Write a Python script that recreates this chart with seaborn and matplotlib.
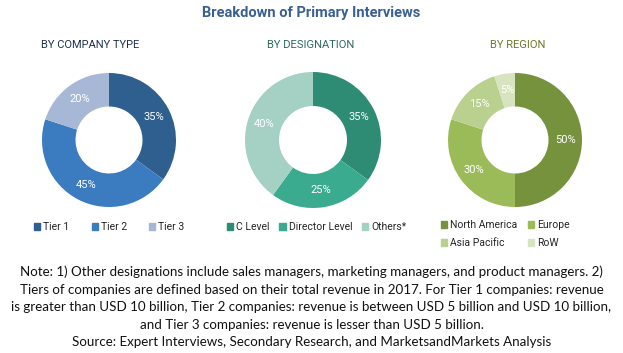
import matplotlib
matplotlib.use("Agg")
import matplotlib.pyplot as plt
import seaborn as sns
from matplotlib.patches import Patch

# data
company_labels = ["Tier 1", "Tier 2", "Tier 3"]
company_values = [35, 45, 20]
designation_labels = ["C Level", "Director Level", "Others*"]
designation_values = [35, 25, 40]
region_labels = ["North America", "Europe", "Asia Pacific", "RoW"]
region_values = [50, 30, 15, 5]

company_colors = ["#2e5f8f", "#3b7bbf", "#a7b8d6"]
designation_colors = ["#2e8b74", "#3aab8f", "#a5d0c4"]
region_colors = ["#77923c", "#9bbb59", "#b9d08e", "#d8e4bf"]

sns.set_theme(style="white")
plt.rcParams["font.family"] = ["Roboto", "DejaVu Sans"]

W, H = 623, 353
fig = plt.figure(figsize=(W / 100, H / 100), dpi=100)


def donut(cx, cy, r, values, colors, title, title_x, title_color):
    ax = fig.add_axes([(cx - r) / W, (H - cy - r) / H, 2 * r / W, 2 * r / H])
    wedges, _, autotexts = ax.pie(values, colors=colors, startangle=90, counterclock=False,
                                  autopct=lambda p: f"{p:.0f}%", pctdistance=0.75,
                                  wedgeprops=dict(width=0.5, edgecolor="none"),
                                  textprops=dict(color="white", fontsize=8))
    ax.set_xlim(-1, 1)
    ax.set_ylim(-1, 1)
    ax.set_aspect("equal")
    fig.text(title_x / W, 1 - 45 / H, title, ha="center", va="center",
             color=title_color, fontsize=8)
    return wedges


donut(109, 140, 67, company_values, company_colors, "BY COMPANY TYPE", 90, "#1f3350")
donut(313, 140, 68, designation_values, designation_colors, "BY DESIGNATION", 311, "#2e6b5c")
donut(515, 140, 67, region_values, region_colors, "BY REGION", 518, "#6b7a2a")

leg_kw = dict(frameon=False, fontsize=7.5, handlelength=0.6, handleheight=0.6,
              handletextpad=0.3, borderaxespad=0, borderpad=0)
fig.legend([Patch(color=c) for c in company_colors], company_labels, ncol=3,
           loc="center left", bbox_to_anchor=(34 / W, 1 - 227 / H), columnspacing=2.1, **leg_kw)
fig.legend([Patch(color=c) for c in designation_colors], designation_labels, ncol=3,
           loc="center left", bbox_to_anchor=(227 / W, 1 - 227 / H), columnspacing=0.9, **leg_kw)
# legend fills column-wise, so reorder to read row-wise
order = [0, 2, 1, 3]
fig.legend([Patch(color=region_colors[i]) for i in order], [region_labels[i] for i in order],
           ncol=2, loc="upper left", bbox_to_anchor=(441 / W, 1 - 220 / H),
           labelspacing=0.8, columnspacing=1.0, **leg_kw)

fig.text(0.5, 1 - 13 / H, "Breakdown of Primary Interviews", ha="center", va="center",
         color="#3a5f93", fontsize=10.5, fontweight="bold")

note = ("Note: 1) Other designations include sales managers, marketing managers, and product managers. 2)\n"
        "Tiers of companies are defined based on their total revenue in 2017. For Tier 1 companies: revenue\n"
        "is greater than USD 10 billion, Tier 2 companies: revenue is between USD 5 billion and USD 10 billion,\n"
        "and Tier 3 companies: revenue is lesser than USD 5 billion.\n"
        "Source: Expert Interviews, Secondary Research, and MarketsandMarkets Analysis")
fig.text(0.5, 1 - 307 / H, note, ha="center", va="center", color="#111111",
         fontsize=9.6, family=["Lato", "DejaVu Sans"], linespacing=1.55)

fig.savefig("out.png", dpi=100)
